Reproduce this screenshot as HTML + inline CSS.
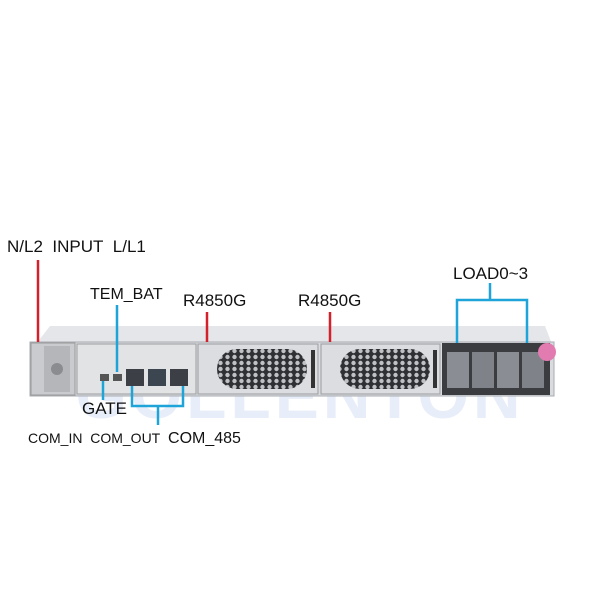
<!DOCTYPE html>
<html><head><style>
body{margin:0;width:600px;height:600px;background:#fff;overflow:hidden;position:relative;font-family:"Liberation Sans","DejaVu Sans",sans-serif}
.t{position:absolute;color:#111;white-space:nowrap}
</style></head><body>
<svg width="600" height="600" style="position:absolute;left:0;top:0">
<defs>
<pattern id="hex" width="7" height="6" patternUnits="userSpaceOnUse">
<rect width="7" height="6" fill="#2e3034"/>
<circle cx="3.5" cy="3" r="2.2" fill="#bfc1c5"/>
</pattern>
</defs>
<text x="300" y="418" text-anchor="middle" font-family="Liberation Sans" font-weight="bold" font-size="66" fill="#e8eef9" letter-spacing="4">GOLLENTON</text>
<polygon points="36,344 50,326 545,326 552,344" fill="#e4e6ea"/>
<rect x="30" y="342" width="524" height="54" fill="#d9dbde" stroke="#a8abb0"/>
<rect x="31" y="343" width="44" height="52" fill="#c9cbce" stroke="#999"/>
<rect x="44" y="346" width="26" height="46" fill="#b4b6ba"/>
<circle cx="57" cy="369" r="6" fill="#8a8c90"/>
<rect x="77" y="344" width="119" height="50" fill="#e2e3e5" stroke="#9a9ca0"/>
<rect x="100" y="374" width="9" height="7" fill="#555"/>
<rect x="113" y="374" width="9" height="7" fill="#555"/>
<rect x="126" y="369" width="18" height="17" fill="#3c4046"/>
<rect x="148" y="369" width="18" height="17" fill="#3c4650"/>
<rect x="170" y="369" width="18" height="17" fill="#3c4046"/>
<rect x="198" y="344" width="120" height="50" fill="#dcdde0" stroke="#9a9ca0"/>
<rect x="217" y="349" width="90" height="40" rx="20" fill="url(#hex)"/>
<rect x="311" y="350" width="4" height="38" fill="#333"/>
<rect x="321" y="344" width="119" height="50" fill="#dcdde0" stroke="#9a9ca0"/>
<rect x="340" y="349" width="90" height="40" rx="20" fill="url(#hex)"/>
<rect x="433" y="350" width="4" height="38" fill="#333"/>
<rect x="442" y="343" width="108" height="52" fill="#3a3c40"/>
<rect x="447" y="352" width="22" height="36" fill="#8a8d93"/>
<rect x="472" y="352" width="22" height="36" fill="#7f8288"/>
<rect x="497" y="352" width="22" height="36" fill="#8a8d93"/>
<rect x="522" y="352" width="22" height="36" fill="#7f8288"/>
<circle cx="547" cy="352" r="9" fill="#e27bb0"/>
<g stroke="#d4202a" stroke-width="2.5">
<line x1="38" y1="260" x2="38" y2="342"/>
<line x1="207" y1="312" x2="207" y2="342"/>
<line x1="330" y1="312" x2="330" y2="342"/>
</g>
<g stroke="#1ea4d8" stroke-width="2.5" fill="none">
<line x1="117" y1="305" x2="117" y2="372"/>
<polyline points="457,343 457,300 527,300 527,343"/>
<line x1="490" y1="283" x2="490" y2="300"/>
<line x1="103" y1="381" x2="103" y2="400"/>
<polyline points="132,386 132,406 183,406 183,386"/>
<line x1="158" y1="406" x2="158" y2="425"/>
</g>
</svg>
<div class="t" style="left:7px;top:237px;font-size:17px">N/L2&nbsp; INPUT&nbsp; L/L1</div>
<div class="t" style="left:90px;top:286px;font-size:16px">TEM_BAT</div>
<div class="t" style="left:183px;top:291px;font-size:17px">R4850G</div>
<div class="t" style="left:298px;top:291px;font-size:17px">R4850G</div>
<div class="t" style="left:453px;top:264px;font-size:17px">LOAD0~3</div>
<div class="t" style="left:82px;top:399px;font-size:17px">GATE</div>
<div class="t" style="left:28px;top:430px;font-size:14px">COM_IN&nbsp; COM_OUT&nbsp; <span style="font-size:16px">COM_485</span></div>
</body></html>
